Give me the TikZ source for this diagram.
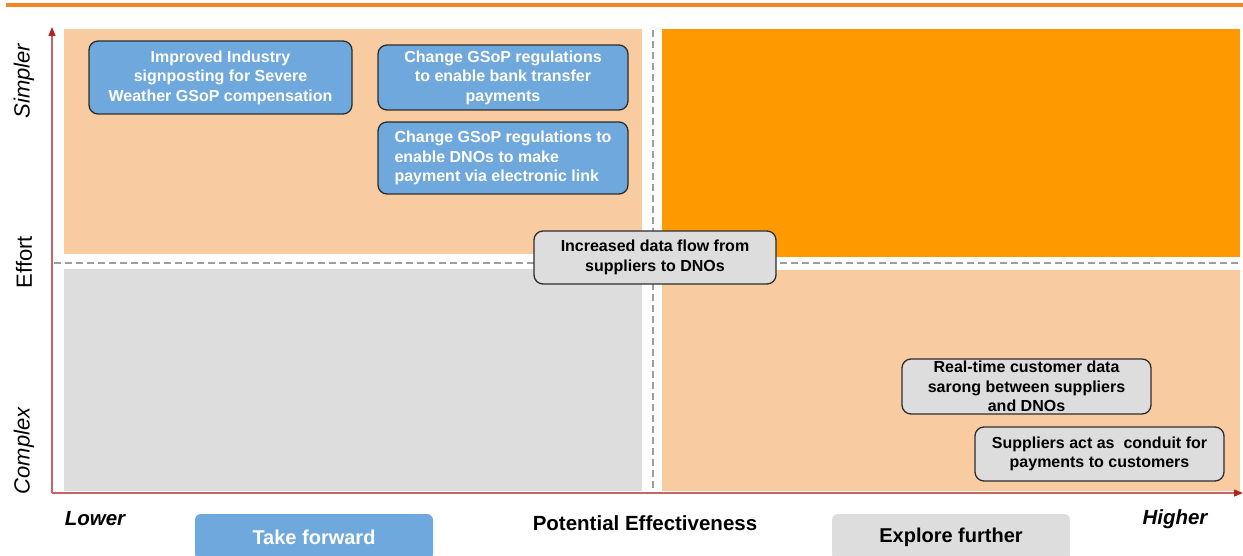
\documentclass[tikz,border=0pt]{standalone}
\usepackage{fontspec}
\setmainfont{Liberation Sans}
\usetikzlibrary{arrows.meta}

\definecolor{peach}{RGB}{248,203,160}
\definecolor{hotorange}{RGB}{255,153,0}
\definecolor{rulerorange}{RGB}{245,132,38}
\definecolor{paleGrey}{RGB}{221,221,221}
\definecolor{actionBlue}{RGB}{111,168,220}
\definecolor{boxLine}{RGB}{45,45,45}
\definecolor{axisRed}{RGB}{200,100,100}
\definecolor{tipRed}{RGB}{178,34,34}

\begin{document}
\begin{tikzpicture}[x=1pt,y=-1pt,font=\bfseries\fontsize{16}{19.5}\selectfont]
    \tikzstyle{idea}=[draw=boxLine,line width=1.3pt,rounded corners=9pt,align=center,inner sep=0pt]
    \tikzstyle{action}=[idea,fill=actionBlue,text=white]
    \tikzstyle{explore}=[idea,fill=paleGrey]
    \tikzstyle{legend}=[rounded corners=6pt,inner sep=0pt,minimum width=238pt,minimum height=46pt,font=\bfseries\fontsize{20}{20}\selectfont]
    \tikzstyle{axislabel}=[rotate=90,font=\fontsize{22}{22}\selectfont]
    \tikzstyle{ends}=[font=\bfseries\itshape\fontsize{20.5}{20.5}\selectfont]
    \tikzstyle{divider}=[draw=black!38,line width=1.6pt,dash pattern=on 7pt off 4pt]
    \tikzstyle{axis}=[draw=axisRed,line width=1.3pt,-{Triangle[length=9pt,width=7pt,color=tipRed]}]

    \useasboundingbox (0,0) rectangle (1243,556);
    \clip (0,0) rectangle (1243,556);

    % Orange rule along the top
    \fill[rulerorange] (6,3.5) rectangle (1243,7.5);

    % The four quadrants
    \fill[peach] (64,29) rectangle (642,254);
    \fill[hotorange] (662,29) rectangle (1240,257);
    \fill[paleGrey] (64,269) rectangle (642,491);
    \fill[peach] (662,270) rectangle (1240,491);

    % Dashed dividers between the quadrants
    \coordinate (vtop) at (653,30);
    \coordinate (vbot) at (653,492);
    \coordinate (hleft) at (54,263);
    \coordinate (hright) at (1240,263);
    \draw[white,line width=5pt] (hleft) -- (hright);
    \draw[divider] (vtop) -- (vbot);
    \draw[divider] (hleft) -- (hright);

    % Axes
    \coordinate (O) at (52,493);
    \coordinate (ytop) at (52,27);
    \coordinate (xend) at (1243,493);
    \draw[axis] (O) -- (ytop);
    \draw[axis] (O) -- (xend);

    % Effort axis labels
    \node[axislabel,font=\itshape\fontsize{22}{22}\selectfont] (simpler) at (24,81) {Simpler};
    \node[axislabel] (effort) at (24,262) {Effort};
    \node[axislabel,font=\itshape\fontsize{22}{22}\selectfont] (complex) at (24,451) {Complex};

    % Effectiveness axis labels
    \node[ends] (lower) at (95,519) {Lower};
    \node[ends] (higher) at (1175,519) {Higher};
    \node[font=\bfseries\fontsize{20.5}{20.5}\selectfont] (effect) at (645,523) {Potential Effectiveness};

    % Legend boxes
    \node[legend,fill=actionBlue,text=white] (take) at (314,537) {Take forward};
    \node[legend,fill=paleGrey] (further) at (951,537) {Explore further};

    % Options to take forward
    \node[action,minimum width=263pt,minimum height=73pt] (signpost) at (220.5,77.5)
        {Improved Industry\\signposting for Severe\\Weather GSoP compensation};
    \node[action,minimum width=250pt,minimum height=65pt] (bank) at (503,77.5)
        {Change GSoP regulations\\to enable bank transfer\\payments};
    \node[action,minimum width=250pt,minimum height=72pt,align=left] (elink) at (503,158)
        {Change GSoP regulations to\\enable DNOs to make\\payment via electronic link};

    % Options to explore further
    \node[explore,minimum width=242pt,minimum height=53pt] (dataflow) at (655,257.5)
        {Increased data flow from\\suppliers to DNOs};
    \node[explore,minimum width=249pt,minimum height=55pt] (realtime) at (1026.5,386.5)
        {Real-time customer data\\sarong between suppliers\\and DNOs};
    \node[explore,minimum width=249pt,minimum height=54pt] (conduit) at (1099.5,454)
        {Suppliers act as \ conduit for\\payments to customers};
\end{tikzpicture}
\end{document}
